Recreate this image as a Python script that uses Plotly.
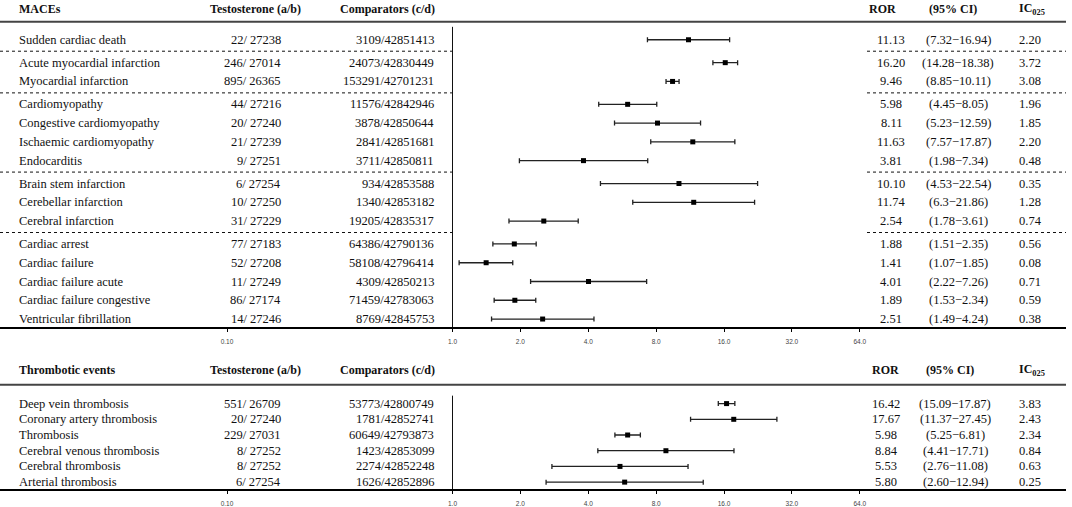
import plotly.graph_objects as go

W, H = 1072, 507

SERIF = "Liberation Serif"
SANS = "Liberation Sans"

# MACEs panel
mace_events = [
    "Sudden cardiac death", "Acute myocardial infarction", "Myocardial infarction",
    "Cardiomyopathy", "Congestive cardiomyopathy", "Ischaemic cardiomyopathy",
    "Endocarditis", "Brain stem infarction", "Cerebellar infarction",
    "Cerebral infarction", "Cardiac arrest", "Cardiac failure",
    "Cardiac failure acute", "Cardiac failure congestive", "Ventricular fibrillation",
]
mace_group = [0, 1, 1, 2, 2, 2, 2, 3, 3, 3, 4, 4, 4, 4, 4]
mace_testo = ["22/ 27238", "246/ 27014", "895/ 26365", "44/ 27216", "20/ 27240",
              "21/ 27239", "9/ 27251", "6/ 27254", "10/ 27250", "31/ 27229",
              "77/ 27183", "52/ 27208", "11/ 27249", "86/ 27174", "14/ 27246"]
mace_comp = ["3109/42851413", "24073/42830449", "153291/42701231", "11576/42842946",
             "3878/42850644", "2841/42851681", "3711/42850811", "934/42853588",
             "1340/42853182", "19205/42835317", "64386/42790136", "58108/42796414",
             "4309/42850213", "71459/42783063", "8769/42845753"]
mace_ror = ["11.13", "16.20", "9.46", "5.98", "8.11", "11.63", "3.81", "10.10",
            "11.74", "2.54", "1.88", "1.41", "4.01", "1.89", "2.51"]
mace_lo = ["7.32", "14.28", "8.85", "4.45", "5.23", "7.57", "1.98", "4.53",
           "6.3", "1.78", "1.51", "1.07", "2.22", "1.53", "1.49"]
mace_hi = ["16.94", "18.38", "10.11", "8.05", "12.59", "17.87", "7.34", "22.54",
           "21.86", "3.61", "2.35", "1.85", "7.26", "2.34", "4.24"]
mace_ic = ["2.20", "3.72", "3.08", "1.96", "1.85", "2.20", "0.48", "0.35",
           "1.28", "0.74", "0.56", "0.08", "0.71", "0.59", "0.38"]

# Thrombotic events panel
thr_events = ["Deep vein thrombosis", "Coronary artery thrombosis", "Thrombosis",
              "Cerebral venous thrombosis", "Cerebral thrombosis", "Arterial thrombosis"]
thr_group = [0, 0, 0, 0, 0, 0]
thr_testo = ["551/ 26709", "20/ 27240", "229/ 27031", "8/ 27252", "8/ 27252", "6/ 27254"]
thr_comp = ["53773/42800749", "1781/42852741", "60649/42793873", "1423/42853099",
            "2274/42852248", "1626/42852896"]
thr_ror = ["16.42", "17.67", "5.98", "8.84", "5.53", "5.80"]
thr_lo = ["15.09", "11.37", "5.25", "4.41", "2.76", "2.60"]
thr_hi = ["17.87", "27.45", "6.81", "17.71", "11.08", "12.94"]
thr_ic = ["3.83", "2.43", "2.34", "0.84", "0.63", "0.25"]

x_tickvals = [0.1, 1, 2, 4, 8, 16, 32, 64]
x_ticktext = ["0.10", "1.0", "2.0", "4.0", "8.0", "16.0", "32.0", "64.0"]

# layout of the two panels, in pixels of the 1072x507 page
panels = [
    dict(title="MACEs", events=mace_events, group=mace_group, testo=mace_testo,
         comp=mace_comp, ror=mace_ror, lo=mace_lo, hi=mace_hi, ic=mace_ic,
         top=0, bottom=329, row0=40, step=18.88, gap=0.22, head=9, rule=22,
         vtop=27, ror_x=891, ror_hx=882, ci_x=958, ci_hx=953),
    dict(title="Thrombotic events", events=thr_events, group=thr_group, testo=thr_testo,
         comp=thr_comp, ror=thr_ror, lo=thr_lo, hi=thr_hi, ic=thr_ic,
         top=350, bottom=492, row0=406, step=15.8, gap=0.0, head=372, rule=387,
         vtop=398, ror_x=886, ror_hx=885, ci_x=955, ci_hx=950),
]

AX_RIGHT = 1066      # right end of rules / axis line
ONE_PX = 452.5       # pixel of x = 1.0
DECADE_PX = 225.5
x_range = [-ONE_PX / DECADE_PX, (AX_RIGHT - ONE_PX) / DECADE_PX]

fig = go.Figure()
annotations = []
shapes = []


def px(x):
    return x / W


def cell(text, x, y, yref, anchor, size=12.5):
    annotations.append(dict(
        text=text, x=px(x), y=y, xref="paper", yref=yref, xanchor=anchor,
        yanchor="middle", showarrow=False,
        font=dict(family=SERIF, size=size, color="#111"),
    ))


for k, p in enumerate(panels, start=1):
    yref = "y" if k == 1 else f"y{k}"
    xref = "x" if k == 1 else f"x{k}"
    xname = "xaxis" if k == 1 else f"xaxis{k}"
    yname = "yaxis" if k == 1 else f"yaxis{k}"

    def u(v, p=p):
        return (v - p["row0"]) / p["step"]

    ys = [i + p["gap"] * g for i, g in enumerate(p["group"])]
    ror = [float(v) for v in p["ror"]]
    lo = [float(v) for v in p["lo"]]
    hi = [float(v) for v in p["hi"]]

    # reference line at 1
    fig.add_trace(go.Scatter(
        x=[1, 1], y=[u(p["vtop"]), u(p["bottom"])], mode="lines",
        line=dict(color="#111", width=1), xaxis=xref,
        yaxis=yref, hoverinfo="skip", showlegend=False,
    ))

    fig.add_trace(go.Scatter(
        x=ror, y=ys, mode="markers",
        marker=dict(symbol="square", size=5, color="#000"),
        error_x=dict(type="data", symmetric=False,
                     array=[h - r for h, r in zip(hi, ror)],
                     arrayminus=[r - l for r, l in zip(ror, lo)],
                     color="#222", thickness=1.3, width=2.5),
        xaxis=xref, yaxis=yref, showlegend=False,
    ))

    # header
    hy = u(p["head"])
    cell(f"<b>{p['title']}</b>", 17, hy, yref, "left", 12)
    cell("<b>Testosterone (a/b)</b>", 255, hy, yref, "center", 12)
    cell("<b>Comparators (c/d)</b>", 387, hy, yref, "center", 12)
    cell("<b>ROR</b>", p["ror_hx"], hy, yref, "center", 12)
    cell("<b>(95% CI)</b>", p["ci_hx"], hy, yref, "center", 12)
    cell("<b>IC<sub>025</sub></b>", 1017, hy, yref, "left", 12)

    shapes.append(dict(type="line", xref="paper", yref=yref, x0=0, x1=px(AX_RIGHT),
                       y0=u(p["rule"]), y1=u(p["rule"]),
                       line=dict(color="#444", width=2)))

    for i, y in enumerate(ys):
        cell(p["events"][i], 17, y, yref, "left")
        cell(p["testo"][i], 283, y, yref, "right")
        cell(p["comp"][i], 436, y, yref, "right")
        cell(p["ror"][i], p["ror_x"], y, yref, "center")
        cell(f"({p['lo'][i]}\u2212{p['hi'][i]})", p["ci_x"], y, yref, "center")
        cell(p["ic"][i], 1017, y, yref, "left")
        if i and p["group"][i] != p["group"][i - 1]:
            sep = (ys[i - 1] + y) / 2
            for a, b in [(0, ONE_PX), (867, AX_RIGHT)]:
                shapes.append(dict(type="line", xref="paper", yref=yref,
                                   x0=px(a), x1=px(b), y0=sep, y1=sep,
                                   line=dict(color="#111", width=1, dash="dot")))

    fig.layout[xname] = dict(
        type="log", range=x_range, domain=[0, px(AX_RIGHT)], anchor=yref,
        showgrid=False, zeroline=False, showline=True, linecolor="#000",
        linewidth=2, ticks="outside", ticklen=3, tickcolor="#000", tickwidth=1,
        tickvals=x_tickvals, ticktext=x_ticktext, ticklabelstandoff=4,
        tickfont=dict(family=SANS, size=6.5, color="#444"),
    )
    fig.layout[yname] = dict(
        domain=[1 - p["bottom"] / H, 1 - p["top"] / H],
        range=[u(p["bottom"]), u(p["top"])], visible=False,
        anchor=xref,
    )

fig.update_layout(
    width=W, height=H,
    margin=dict(l=0, r=0, t=0, b=0),
    plot_bgcolor="white", paper_bgcolor="white",
    annotations=annotations, shapes=shapes,
    showlegend=False,
)

# drop the browser's default 8px page margin so the figure fills the window
fig.write_html("out.html", config={"displayModeBar": False},
               post_script="document.body.style.margin = '0';")
